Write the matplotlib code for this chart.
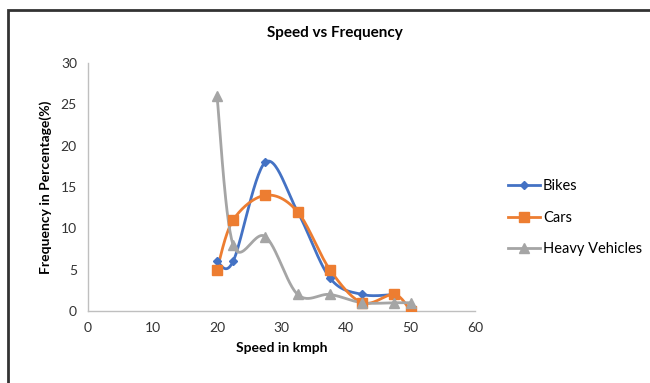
import numpy as np
import matplotlib

matplotlib.use("Agg")
import matplotlib.pyplot as plt
from matplotlib.patches import Rectangle

plt.rcParams["font.family"] = ["Lato", "DejaVu Sans"]

# Data
speeds = [20, 22.5, 27.5, 32.5, 37.5, 42.5, 47.5, 50]
bikes = [6, 6, 18, 12, 4, 2, 2]
cars = [5, 11, 14, 12, 5, 1, 2, 0]
heavy = [26, 8, 9, 2, 2, 1, 1, 1]

x_ticks = [0, 10, 20, 30, 40, 50, 60]
y_ticks = [0, 5, 10, 15, 20, 25, 30]


def smooth(xs, ys, n=30):
    # Excel style smoothed line (bezier through the points)
    xs = np.asarray(xs, float)
    ys = np.asarray(ys, float)
    px = np.concatenate([[xs[0]], xs, [xs[-1]]])
    py = np.concatenate([[ys[0]], ys, [ys[-1]]])
    outx, outy = [], []
    t = np.linspace(0, 1, n)
    for i in range(1, len(px) - 2):
        p0 = np.array([px[i], py[i]])
        p3 = np.array([px[i + 1], py[i + 1]])
        p1 = p0 + (np.array([px[i + 1], py[i + 1]]) - np.array([px[i - 1], py[i - 1]])) / 6
        p2 = p3 - (np.array([px[i + 2], py[i + 2]]) - np.array([px[i], py[i]])) / 6
        b = ((1 - t) ** 3)[:, None] * p0 + (3 * (1 - t) ** 2 * t)[:, None] * p1 \
            + (3 * (1 - t) * t ** 2)[:, None] * p2 + (t ** 3)[:, None] * p3
        outx.extend(b[:, 0])
        outy.extend(b[:, 1])
    return outx, outy


fig = plt.figure(figsize=(6.5, 3.83), dpi=100)
ax = fig.add_axes([88 / 650, 1 - 311 / 383, (475 - 88) / 650, (311 - 63) / 383])

series = [
    ("Bikes", speeds[:len(bikes)], bikes, "#4472C4", "D", 4.5),
    ("Cars", speeds, cars, "#ED7D31", "s", 6.5),
    ("Heavy Vehicles", speeds, heavy, "#A5A5A5", "^", 6.5),
]
handles = []
for name, xs, ys, col, mk, ms in series:
    sx, sy = smooth(xs, ys)
    ax.plot(sx, sy, color=col, lw=2, solid_capstyle="round", zorder=2)
    ax.plot(xs, ys, ls="none", marker=mk, ms=ms, color=col, zorder=3)
    h, = ax.plot([], [], color=col, lw=2, marker=mk, ms=ms, label=name)
    handles.append(h)

ax.set_xlim(0, 60)
ax.set_ylim(0, 30)
ax.set_xticks(x_ticks)
ax.set_yticks(y_ticks)
ax.tick_params(length=0, labelsize=10, colors="#333333", pad=8)
for s in ["top", "right"]:
    ax.spines[s].set_visible(False)
for s in ["left", "bottom"]:
    ax.spines[s].set_color("#BFBFBF")
    ax.spines[s].set_linewidth(1)
ax.set_xlabel("Speed in kmph", fontsize=10, fontweight="bold", labelpad=6)
ax.set_ylabel("Frequency in Percentage(%)", fontsize=10, fontweight="bold", labelpad=6)
fig.text(335 / 650, 1 - 33 / 383, "Speed vs Frequency", ha="center", va="center",
         fontsize=11, fontweight="bold")

fig.legend(handles=handles, loc="center left", bbox_to_anchor=(495 / 650, 1 - 218 / 383),
           frameon=False, fontsize=10.5, handlelength=2.2, handletextpad=0.2,
           labelspacing=1.2)

fig.patches.append(Rectangle((8 / 650, -0.05), 1.0, 1 - 10 / 383 + 0.05,
                             transform=fig.transFigure, fill=False,
                             edgecolor="#333333", lw=2))

fig.savefig("out.png", dpi=100)
